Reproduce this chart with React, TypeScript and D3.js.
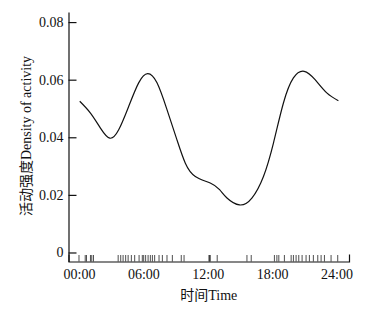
import React, { useEffect, useRef } from "react";
import * as d3 from "d3";

// Density curve (hour of day, density)
const hours = [0.07, 1.07, 2.0, 2.87, 3.7, 4.63, 5.56, 6.4, 7.27, 8.2, 9.13, 9.91, 10.84, 12.23, 13.1, 13.79, 14.96, 16.11, 17.19, 18.12, 19.05, 19.98, 20.98, 22.0, 23.09, 24.17];
const density = [0.0525, 0.0484, 0.0432, 0.0397, 0.0426, 0.0507, 0.0589, 0.0621, 0.0589, 0.0496, 0.0391, 0.031, 0.0264, 0.0241, 0.0218, 0.0189, 0.0165, 0.0189, 0.0264, 0.038, 0.0519, 0.0606, 0.0629, 0.06, 0.0554, 0.0527];

// Rug marks (observed activity times, hours)
const rugHours = [0.0, 0.58, 0.7, 1.07, 1.19, 1.35, 3.65, 3.89, 4.11, 4.35, 4.58, 4.88, 5.19, 5.6, 5.9, 6.03, 6.21, 6.44, 6.65, 6.84, 7.05, 7.46, 7.77, 8.2, 8.7, 9.53, 9.79, 12.11, 12.17, 12.23, 12.88, 15.65, 16.05, 18.21, 18.44, 18.62, 19.14, 19.77, 19.98, 20.23, 20.48, 20.79, 21.16, 21.47, 21.84, 22.25, 22.56, 22.87, 23.49, 24.11];

const xTickValues = [0, 6, 12, 18, 24];
const xTickLabels = ["00:00", "06:00", "12:00", "18:00", "24:00"];
const yTickValues = [0, 0.02, 0.04, 0.06, 0.08];
const yTickLabels = ["0", "0.02", "0.04", "0.06", "0.08"];

const xTitle = "时间Time";
const yTitle = "活动强度Density of activity";

const W = 371;
const H = 311;
const FONT = "'Liberation Serif', 'Times New Roman', 'Noto Sans CJK SC', serif";

export default function App() {
  const ref = useRef<SVGSVGElement | null>(null);

  useEffect(() => {
    const svg = d3.select(ref.current);
    svg.selectAll("*").remove();

    const left = 68.5;
    const right = 349;
    const bottom = 261.5;
    const top = 12;

    const x = d3.scaleLinear().domain([-0.977, 25.16]).range([left, right]);
    const y = d3.scaleLinear().domain([-0.00313, 0.0835]).range([bottom, top]);

    // rug
    svg
      .append("g")
      .selectAll("line")
      .data(rugHours)
      .join("line")
      .attr("x1", (d) => x(d))
      .attr("x2", (d) => x(d))
      .attr("y1", bottom)
      .attr("y2", bottom - 6.5)
      .attr("stroke", "#222")
      .attr("stroke-width", 0.8);

    // x axis
    const gx = svg
      .append("g")
      .attr("transform", `translate(0,${bottom})`)
      .call(
        d3
          .axisBottom(x)
          .tickValues(xTickValues)
          .tickFormat((_d, i) => xTickLabels[i])
          .tickSize(0)
          .tickSizeOuter(-7)
          .tickPadding(8)
      );

    // y axis
    const gy = svg
      .append("g")
      .attr("transform", `translate(${left},0)`)
      .call(
        d3
          .axisLeft(y)
          .tickValues(yTickValues)
          .tickFormat((_d, i) => yTickLabels[i])
          .tickSize(-8)
          .tickSizeOuter(0)
          .tickPadding(5)
      );

    [gx, gy].forEach((g) => {
      g.attr("font-family", FONT).attr("font-size", 14);
      g.selectAll("path, line").attr("stroke", "#111").attr("stroke-width", 1.2);
      g.selectAll("text").attr("fill", "#111");
    });

    // density line
    const line = d3
      .line<number>()
      .x((_d, i) => x(hours[i]))
      .y((d) => y(d))
      .curve(d3.curveNatural);

    svg
      .append("path")
      .attr("d", line(density) as string)
      .attr("fill", "none")
      .attr("stroke", "#111")
      .attr("stroke-width", 1.2);

    // titles
    svg
      .append("text")
      .attr("x", (left + right) / 2)
      .attr("y", 300)
      .attr("text-anchor", "middle")
      .attr("font-family", FONT)
      .attr("font-size", 14)
      .attr("fill", "#111")
      .text(xTitle);

    svg
      .append("text")
      .attr("transform", `translate(31,136) rotate(-90)`)
      .attr("text-anchor", "middle")
      .attr("font-family", FONT)
      .attr("font-size", 14)
      .attr("fill", "#111")
      .text(yTitle);
  }, []);

  return (
    <div style={{ position: "absolute", left: 0, top: 0 }}>
      <svg ref={ref} width={W} height={H} style={{ display: "block", background: "#fff" }} />
    </div>
  );
}
